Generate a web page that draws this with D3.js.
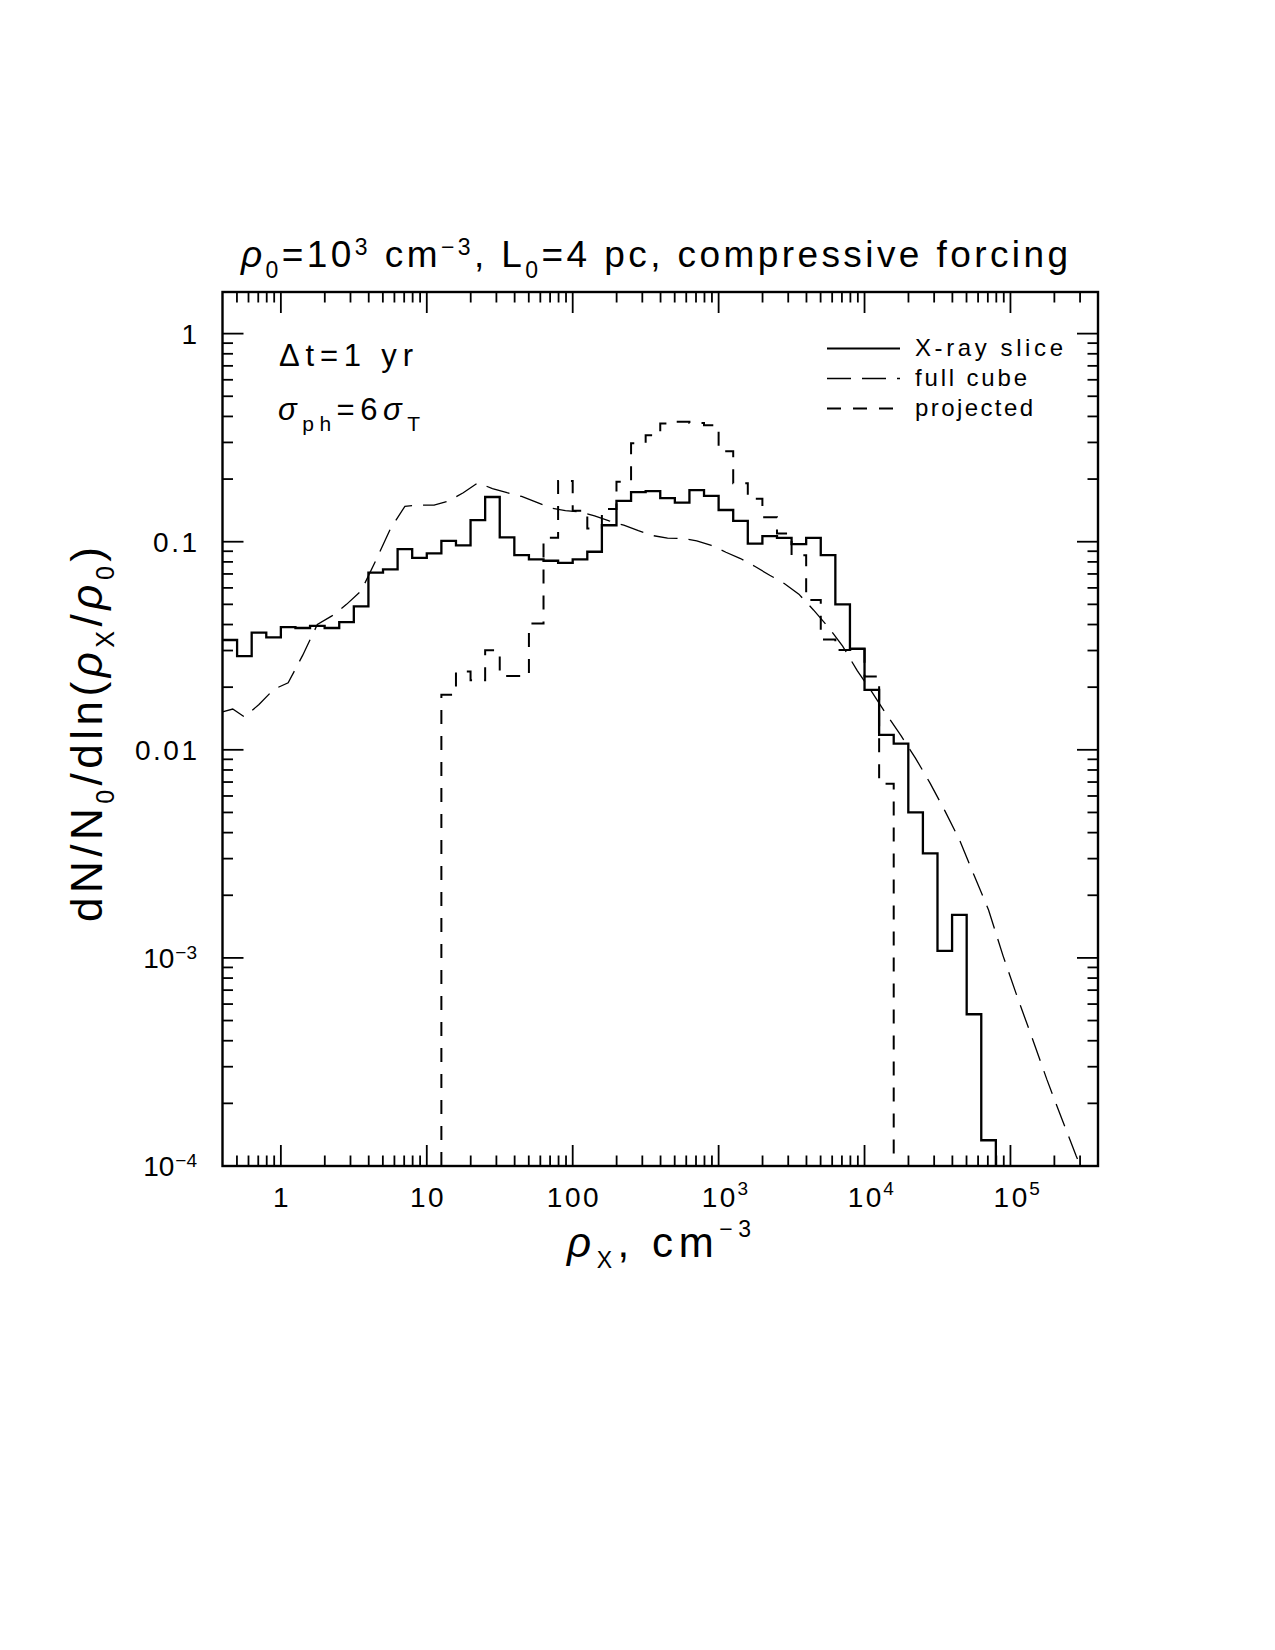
<!DOCTYPE html>
<html><head><meta charset="utf-8">
<script src="https://cdn.jsdelivr.net/npm/d3@7"></script>
<style>
body{margin:0;background:#fff;}
svg{display:block;}
text{font-family:"Liberation Sans",Arial,Helvetica,sans-serif;fill:#000;}
</style>
</head><body>
<svg id="c" width="1275" height="1650"></svg>
<script>
// ---------------- data ----------------
// X-ray slice histogram: log10 bin edges (cm^-3) and bin values
const sliceLogEdges = [-0.4,-0.3,-0.2,-0.1,0.0,0.1,0.2,0.3,0.4,0.5,0.6,0.7,0.8,0.9,1.0,1.1,1.2,1.3,1.4,1.5,1.6,1.7,1.8,1.9,2.0,2.1,2.2,2.3,2.4,2.5,2.6,2.7,2.8,2.9,3.0,3.1,3.2,3.3,3.4,3.5,3.6,3.7,3.8,3.9,4.0,4.1,4.2,4.3,4.4,4.5,4.6,4.7,4.8,4.9];
const sliceValues = [0.0337,0.0282,0.0366,0.0347,0.0389,0.0385,0.0394,0.0385,0.0411,0.0489,0.0710,0.0736,0.0921,0.0837,0.0879,0.101,0.096,0.127,0.164,0.105,0.0862,0.0822,0.081,0.0792,0.0822,0.0895,0.120,0.157,0.173,0.175,0.162,0.154,0.177,0.166,0.142,0.126,0.098,0.1064,0.1044,0.0974,0.1044,0.0862,0.050,0.0306,0.0194,0.0118,0.0107,0.0050,0.00318,0.00108,0.00161,0.000536,0.000133];

// projected histogram
const projLogEdges = [1.1,1.2,1.3,1.4,1.5,1.6,1.7,1.8,1.9,2.0,2.1,2.2,2.3,2.4,2.5,2.6,2.7,2.8,2.9,3.0,3.1,3.2,3.3,3.4,3.5,3.6,3.7,3.8,3.9,4.0,4.1,4.2];
const projValues = [0.0184,0.0238,0.0216,0.0301,0.0226,0.0226,0.0405,0.1044,0.196,0.141,0.1158,0.1435,0.194,0.297,0.325,0.370,0.377,0.372,0.363,0.272,0.191,0.161,0.131,0.1096,0.0862,0.0524,0.0339,0.0302,0.0304,0.0225,0.00687];

// full cube curve
const cubeLogRho = [-0.4,-0.33,-0.25,-0.15,-0.05,0.05,0.15,0.25,0.35,0.45,0.55,0.65,0.75,0.85,0.95,1.05,1.15,1.25,1.35,1.45,1.55,1.65,1.75,1.85,1.95,2.05,2.15,2.25,2.35,2.45,2.55,2.65,2.75,2.85,2.95,3.05,3.15,3.25,3.35,3.45,3.55,3.65,3.75,3.85,3.95,4.05,4.15,4.25,4.35,4.45,4.55,4.65,4.75,4.85,4.95,5.05,5.15,5.25,5.35,5.45,5.48];
const cubeValues = [0.0152,0.0157,0.0144,0.0165,0.0195,0.0210,0.0285,0.040,0.044,0.050,0.058,0.081,0.115,0.148,0.150,0.150,0.157,0.172,0.192,0.180,0.172,0.165,0.155,0.145,0.141,0.139,0.133,0.126,0.120,0.113,0.107,0.104,0.1037,0.101,0.096,0.089,0.083,0.076,0.069,0.063,0.056,0.047,0.039,0.0315,0.024,0.019,0.0148,0.0117,0.0091,0.0069,0.0051,0.0037,0.0025,0.0017,0.00102,0.00064,0.00041,0.00026,0.00017,0.000112,0.0001];

// tick labels
const xTickValues = [1,10,100,1e3,1e4,1e5];
const xTickBase = ["1","10","100","10","10","10"];
const xTickExp = ["","","","3","4","5"];
const yTickValues = [1,0.1,0.01,1e-3,1e-4];
const yTickBase = ["1","0.1","0.01","10","10"];
const yTickExp = ["","","","\u22123","\u22124"];

const legendLabels = ["X-ray slice","full cube","projected"];

// ---------------- layout ----------------
const M = {left:222.5, right:1098, top:292, bottom:1166};
const svg = d3.select("#c");
const x = d3.scaleLog().domain([Math.pow(10,-0.4), Math.pow(10,5.6)]).range([M.left, M.right]);
const y = d3.scaleLog().domain([1e-4, Math.pow(10,0.2)]).range([M.bottom, M.top]);
const floorV = 1e-4;

svg.append("defs").append("clipPath").attr("id","clip")
  .append("rect").attr("x",M.left).attr("y",M.top-1).attr("width",M.right-M.left).attr("height",M.bottom-M.top+2);

function fit(sel, target){
  const node = sel.node();
  const n = node.getNumberOfChars();
  const w = node.getComputedTextLength();
  if(n>1) sel.style("letter-spacing", ((target - w)/(n-1)) + "px");
}

// ---------------- data lines ----------------
const g = svg.append("g").attr("clip-path","url(#clip)");
const stepLine = d3.line().x(d=>x(Math.pow(10,d[0]))).y(d=>y(d[1])).curve(d3.curveStepAfter);
function histPts(edges, vals, fromFloor){
  const p=[];
  if(fromFloor) p.push([edges[0], floorV]);
  vals.forEach((v,i)=>p.push([edges[i], v]));
  p.push([edges[vals.length], vals[vals.length-1]]);
  p.push([edges[vals.length], floorV]);
  return p;
}
const STYLE = {
  slice:{w:2.3, dash:null},
  cube:{w:1.3, dash:"24,11"},
  proj:{w:2.0, dash:"14,12"}
};
g.append("path").attr("d", stepLine(histPts(sliceLogEdges, sliceValues, false)))
  .attr("fill","none").attr("stroke","#000").attr("stroke-width",STYLE.slice.w).attr("stroke-linejoin","miter");
g.append("path").attr("d", stepLine(histPts(projLogEdges, projValues, true)))
  .attr("fill","none").attr("stroke","#000").attr("stroke-width",STYLE.proj.w).attr("stroke-dasharray",STYLE.proj.dash);
const cubeLine = d3.line().x((d,i)=>x(Math.pow(10,cubeLogRho[i]))).y(d=>y(d));
g.append("path").attr("d", cubeLine(cubeValues))
  .attr("fill","none").attr("stroke","#000").attr("stroke-width",STYLE.cube.w).attr("stroke-dasharray",STYLE.cube.dash);

// ---------------- frame & ticks ----------------
const isMajor = v => Math.abs(Math.log10(v) - Math.round(Math.log10(v))) < 1e-6;
const ax = svg.append("g").attr("stroke","#000").attr("stroke-width",1.8);
const MAJ = 21, MIN = 10.5;
x.ticks().filter(v => x(v) > M.left+2 && x(v) < M.right-2).forEach(v=>{
  const L = isMajor(v)?MAJ:MIN, px = x(v);
  ax.append("line").attr("x1",px).attr("x2",px).attr("y1",M.bottom).attr("y2",M.bottom-L);
  ax.append("line").attr("x1",px).attr("x2",px).attr("y1",M.top).attr("y2",M.top+L);
});
y.ticks().filter(v => y(v) < M.bottom-2 && y(v) > M.top+2).forEach(v=>{
  const L = isMajor(v)?MAJ:MIN, py = y(v);
  ax.append("line").attr("x1",M.left).attr("x2",M.left+L).attr("y1",py).attr("y2",py);
  ax.append("line").attr("x1",M.right).attr("x2",M.right-L).attr("y1",py).attr("y2",py);
});
svg.append("rect").attr("x",M.left).attr("y",M.top).attr("width",M.right-M.left).attr("height",M.bottom-M.top)
  .attr("fill","none").attr("stroke","#000").attr("stroke-width",2.4);

// ---------------- tick labels ----------------
const TFS = 28, EFS = 19, LS = 2.5;
xTickValues.forEach((v,i)=>{
  const px = x(v);
  const t = svg.append("text").attr("x",px + LS/2).attr("y",1207).attr("text-anchor","middle")
    .style("font-size",TFS+"px").style("letter-spacing",LS+"px").text(xTickBase[i]);
  if(xTickExp[i]){
    const bw = t.node().getComputedTextLength() - LS;
    svg.append("text").attr("x",px + bw/2 + 2).attr("y",1195).style("font-size",EFS+"px").text(xTickExp[i]);
  }
});
const YR = 197;
yTickValues.forEach((v,i)=>{
  const py = y(v);
  if(yTickExp[i]){
    const e = svg.append("text").attr("x",YR).attr("y",py+1).attr("text-anchor","end")
      .style("font-size",EFS+"px").text(yTickExp[i]);
    const ew = e.node().getComputedTextLength();
    svg.append("text").attr("x",YR-ew-1).attr("y",py+10).attr("text-anchor","end")
      .style("font-size",TFS+"px").text(yTickBase[i]);
  } else {
    svg.append("text").attr("x",YR+LS).attr("y",py+10).attr("text-anchor","end")
      .style("font-size",TFS+"px").style("letter-spacing",LS+"px").text(yTickBase[i]);
  }
});

// ---------------- title ----------------
const title = svg.append("text").attr("x",241).attr("y",267).style("font-size","37px");
title.append("tspan").style("font-style","italic").text("\u03C1");
title.append("tspan").attr("dy",11).style("font-size","23px").text("0");
title.append("tspan").attr("dy",-11).text("=10");
title.append("tspan").attr("dy",-12).style("font-size","23px").text("3");
title.append("tspan").attr("dy",12).text(" cm");
title.append("tspan").attr("dy",-12).style("font-size","23px").text("\u22123");
title.append("tspan").attr("dy",12).text(", L");
title.append("tspan").attr("dy",11).style("font-size","23px").text("0");
title.append("tspan").attr("dy",-11).text("=4  pc,  compressive  forcing");
fit(title, 827);

// ---------------- axis labels ----------------
const xl = svg.append("text").attr("x",567).attr("y",1257).style("font-size","42px");
xl.append("tspan").style("font-style","italic").text("\u03C1");
xl.append("tspan").attr("dy",11).style("font-size","23px").text("X");
xl.append("tspan").attr("dy",-11).text(", cm");
xl.append("tspan").attr("dy",-20).style("font-size","23px").text("\u22123");
fit(xl, 184);

const yl = svg.append("text").attr("transform","translate(102,922) rotate(-90)").style("font-size","44px");
yl.append("tspan").text("dN/N");
yl.append("tspan").attr("dy",12).style("font-size","25px").text("0");
yl.append("tspan").attr("dy",-12).text("/dln(");
yl.append("tspan").style("font-style","italic").text("\u03C1");
yl.append("tspan").attr("dy",12).style("font-size","25px").text("X");
yl.append("tspan").attr("dy",-12).text("/");
yl.append("tspan").style("font-style","italic").text("\u03C1");
yl.append("tspan").attr("dy",12).style("font-size","25px").text("0");
yl.append("tspan").attr("dy",-12).text(")");
fit(yl, 375);

// ---------------- annotations ----------------
const a1 = svg.append("text").attr("x",279).attr("y",366).style("font-size","31px").text("\u0394t=1 yr");
fit(a1, 134);
const a2 = svg.append("text").attr("x",278).attr("y",420).style("font-size","31px");
a2.append("tspan").style("font-style","italic").text("\u03C3");
a2.append("tspan").attr("dy",11).style("font-size","21px").text("ph");
a2.append("tspan").attr("dy",-11).text("=6");
a2.append("tspan").style("font-style","italic").text("\u03C3");
a2.append("tspan").attr("dy",11).style("font-size","21px").text("T");
fit(a2, 142);

// ---------------- legend ----------------
const legStyles = [STYLE.slice, STYLE.cube, STYLE.proj];
const legWidths = [148, 112, 118];
legendLabels.forEach((lab,i)=>{
  const by = 356 + i*30;
  svg.append("line").attr("x1",827).attr("x2",900).attr("y1",by-7.5).attr("y2",by-7.5)
    .attr("stroke","#000").attr("stroke-width",Math.min(legStyles[i].w,2))
    .attr("stroke-dasharray",legStyles[i].dash);
  const t = svg.append("text").attr("x",915).attr("y",by).style("font-size","24px").text(lab);
  fit(t, legWidths[i]);
});
</script>
</body></html>
